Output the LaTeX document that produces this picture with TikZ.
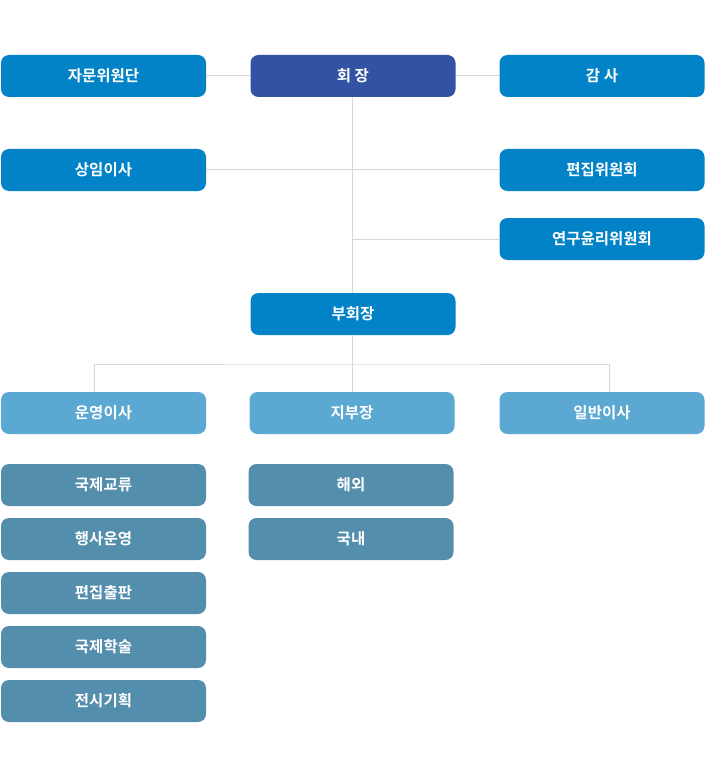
\documentclass[tikz,border=0pt]{standalone}
\usepackage{fontspec}
\setmainfont{Noto Sans CJK KR}[BoldFont={* Bold}]
\definecolor{cdark}{HTML}{3252A3}
\definecolor{cmain}{HTML}{0283C7}
\definecolor{clight}{HTML}{5BA8D2}
\definecolor{csteel}{HTML}{548EAD}
\definecolor{cline}{HTML}{D8D8D8}
\begin{document}
\begin{tikzpicture}[x=1pt,y=-1pt,
  box/.style={rounded corners=8pt, minimum width=205pt, minimum height=42pt, inner sep=0pt,
    text=white, font=\fontsize{15.5}{17}\selectfont\bfseries, anchor=center},
  bdark/.style={box, fill=cdark},
  bmain/.style={box, fill=cmain},
  blight/.style={box, fill=clight},
  bsteel/.style={box, fill=csteel},
  conn/.style={draw=cline, line width=1pt}]
\useasboundingbox (0,0) rectangle (706,778);
\node[bmain] (jamun) at (103.5,76) {자문위원단};
\node[bdark] (hoe) at (353,76) {회 장};
\node[bmain] (gamsa) at (602,76) {감 사};
\node[bmain] (sangim) at (103.5,170) {상임이사};
\node[bmain] (pyeonjip) at (602,170) {편집위원회};
\node[bmain] (yeongu) at (602,239) {연구윤리위원회};
\node[bmain] (bu) at (353,314) {부회장};
\node[blight] (unyeong) at (103.5,413) {운영이사};
\node[blight] (jibu) at (352,413) {지부장};
\node[blight] (ilban) at (602,413) {일반이사};
\node[bsteel] (s1) at (103.5,485) {국제교류};
\node[bsteel] (s2) at (103.5,539) {행사운영};
\node[bsteel] (s3) at (103.5,593) {편집출판};
\node[bsteel] (s4) at (103.5,647) {국제학술};
\node[bsteel] (s5) at (103.5,701) {전시기획};
\node[bsteel] (h1) at (351,485) {해외};
\node[bsteel] (h2) at (351,539) {국내};
\coordinate (br) at (352,364);
\coordinate (uoTop) at (94,392);
\coordinate (ilTop) at (609,392);
\path[conn] (jamun.east) -- (hoe.west);
\path[conn] (hoe.east) -- (gamsa.west);
\path[conn] (sangim.east) -- (pyeonjip.west);
\path[conn] (hoe.south -| br) -- (bu.north -| br);
\path[conn] (yeongu.west) -- (yeongu.west -| br);
\path[conn] (bu.south -| br) -- (jibu.north -| br);
\path[conn] (uoTop) |- (br) -| (ilTop);
\end{tikzpicture}
\end{document}
